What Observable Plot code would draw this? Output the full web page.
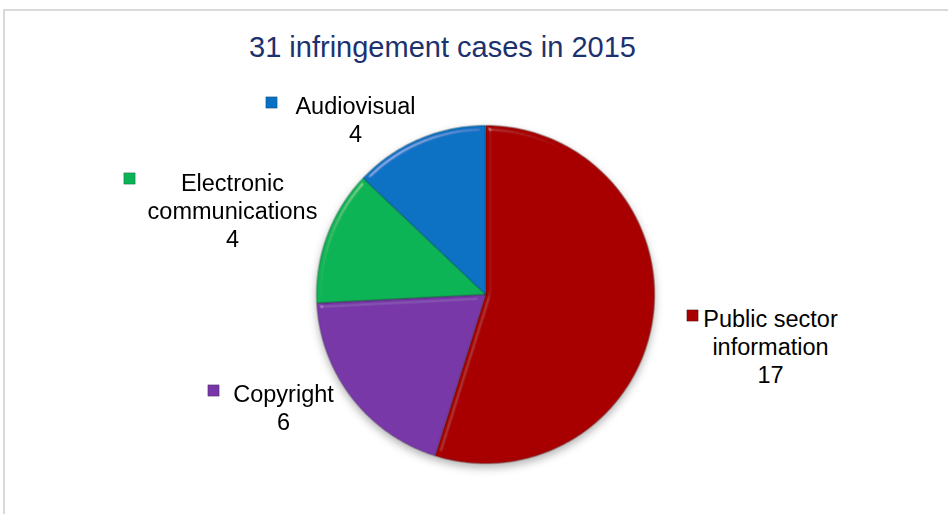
<!DOCTYPE html>
<html>
<head>
<meta charset="utf-8">
<script src="https://cdn.jsdelivr.net/npm/d3@7"></script>
<script src="https://cdn.jsdelivr.net/npm/@observablehq/plot@0.6"></script>
<style>
  html, body { margin: 0; padding: 0; background: #fff; }
  #wrap { position: relative; width: 948px; height: 514px; overflow: hidden; }
  #frame { position: absolute; left: 3px; top: 9px; width: 2000px; height: 2000px;
           border-left: 2px solid #d9d9d9; border-top: 2px solid #d9d9d9; }
  #chart { position: absolute; left: 0; top: 0; }
</style>
</head>
<body>
<div id="wrap"><div id="frame"></div><div id="chart"></div></div>
<script>
// ---- data ----
const categories = ["Public sector information", "Copyright", "Electronic communications", "Audiovisual"];
const cases = [17, 6, 4, 4];
const labelLines = [["Public sector", "information"], ["Copyright"], ["Electronic", "communications"], ["Audiovisual"]];
const year = 2015;

// ---- styles / layout ----
const colors = ["#a80000", "#7837a8", "#0ab456", "#0772c4"];
const W = 948, H = 514, CX = 485, CY = 294, R = 169;
// label block: centre x and first baseline (px); legend key centre (px)
const labelLayout = [
  {cx: 770, base: 323, kx: 692, ky: 315},
  {cx: 283, base: 398, kx: 213, ky: 390},
  {cx: 232, base: 187, kx: 129, ky: 178},
  {cx: 355, base: 110, kx: 271, ky: 102}
];
const fs = 23.5, lh = 28;
const ux = px => (px - CX) / R;
const uy = py => (CY - py) / R;

// ---- slice geometry from values ----
const total = d3.sum(cases);
const pts = [];
let acc = 0;
categories.forEach((c, i) => {
  const a0 = acc / total * 2 * Math.PI, a1 = (acc + cases[i]) / total * 2 * Math.PI;
  pts.push({cat: c, x: 0, y: 0});
  const n = Math.max(4, Math.ceil((a1 - a0) / (Math.PI / 180)));
  for (let k = 0; k <= n; k++) {
    const t = a0 + (a1 - a0) * k / n;
    pts.push({cat: c, x: Math.sin(t), y: Math.cos(t)});
  }
  pts.push({cat: c, x: 0, y: 0});
  acc += cases[i];
});

const labels = categories.map((c, i) => ({
  cat: c,
  text: labelLines[i].join("\n") + "\n" + cases[i],
  x: ux(labelLayout[i].cx),
  y: uy(labelLayout[i].base - 0.71 * fs)
}));
const keys = categories.map((c, i) => ({cat: c, x: ux(labelLayout[i].kx), y: uy(labelLayout[i].ky)}));

const chart = Plot.plot({
  width: W, height: H, margin: 0,
  style: {fontFamily: "'Liberation Sans', Arial, sans-serif", background: "transparent"},
  x: {domain: [ux(0), ux(W)], axis: null},
  y: {domain: [uy(H), uy(0)], axis: null},
  color: {domain: categories, range: colors},
  marks: [
    Plot.line(pts, {x: "x", y: "y", z: "cat", fill: "cat", stroke: "rgba(0,0,0,0.3)", strokeWidth: 1, curve: "linear"}),
    Plot.dot(keys, {x: "x", y: "y", fill: "cat", symbol: "square", r: 6.4, stroke: "rgba(0,0,0,0.3)", strokeWidth: 0.8}),
    Plot.text(labels, {x: "x", y: "y", text: "text", fontSize: fs, lineAnchor: "top", lineHeight: lh / fs, textAnchor: "middle", fill: "#000"}),
    Plot.text([`${total} infringement cases in ${year}`], {frameAnchor: "top", lineAnchor: "top", dx: -32, dy: 36.4, fontSize: 29, fill: "#1c326e"})
  ]
});

// decorative bevel + shadow on pie slices
const defs = document.createElementNS("http://www.w3.org/2000/svg", "defs");
defs.innerHTML = `
<filter id="bevel" x="-10%" y="-10%" width="120%" height="120%">
  <feGaussianBlur in="SourceAlpha" stdDeviation="2.5" result="blur"/>
  <feSpecularLighting in="blur" surfaceScale="4" specularConstant="0.6" specularExponent="60" lighting-color="#ffffff" result="spec">
    <feDistantLight azimuth="235" elevation="40"/>
  </feSpecularLighting>
  <feComposite in="spec" in2="SourceAlpha" operator="in" result="specIn"/>
  <feComposite in="SourceGraphic" in2="specIn" operator="arithmetic" k1="0" k2="1" k3="0.5" k4="0"/>
</filter>`;
chart.insertBefore(defs, chart.firstChild);
const lineG = chart.querySelector('g[aria-label="line"]');
if (lineG) {
  lineG.style.filter = "drop-shadow(0px 4px 4px rgba(0,0,0,0.3))";
  lineG.querySelectorAll("path").forEach(p => p.setAttribute("filter", "url(#bevel)"));
}
document.getElementById("chart").appendChild(chart);
</script>
</body>
</html>
